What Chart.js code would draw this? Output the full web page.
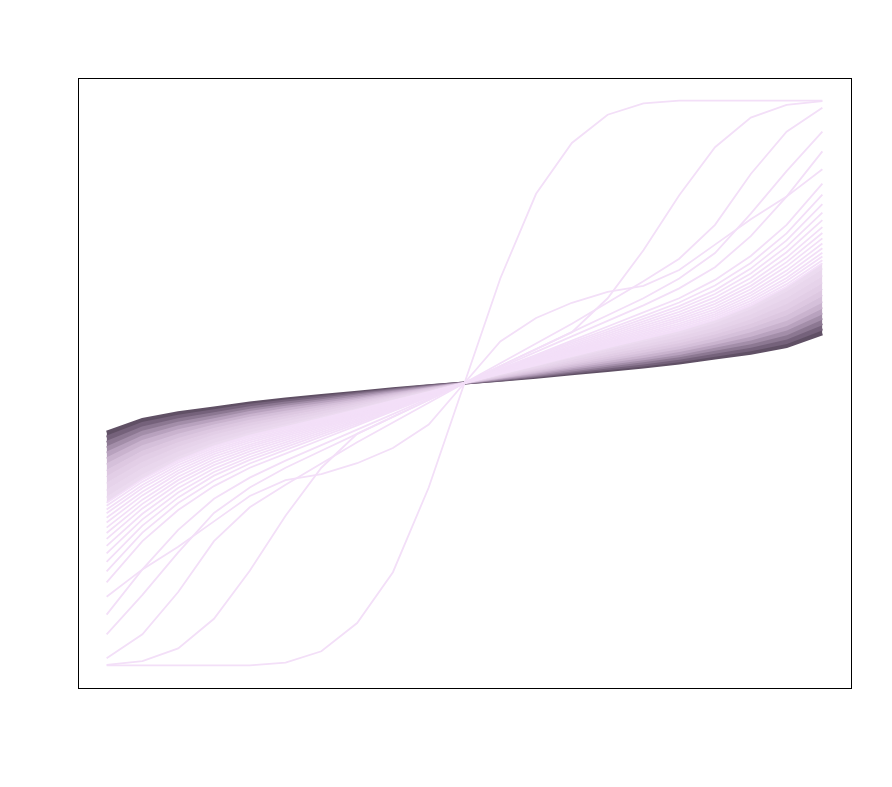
<!DOCTYPE html>
<html>
<head>
<meta charset="utf-8">
<script src="https://cdn.jsdelivr.net/npm/chart.js@4.4.1/dist/chart.umd.min.js"></script>
<style>
  html, body { margin: 0; padding: 0; background: #ffffff; }
  #wrap { width: 892px; height: 787px; position: relative; }
</style>
</head>
<body>
<div id="wrap"><canvas id="chart"></canvas></div>
<script>
// x grid, 21 points
const xValues = [-1, -0.9, -0.8, -0.7, -0.6, -0.5, -0.4, -0.3, -0.2, -0.1, 0,
  0.1, 0.2, 0.3, 0.4, 0.5, 0.6, 0.7, 0.8, 0.9, 1];

// light curves, steepest first
const curve01 = [-1, -1, -1, -1, -1, -0.99, -0.95, -0.85, -0.67, -0.37, 0, 0.37, 0.67, 0.85, 0.95, 0.99, 1, 1, 1, 1, 1];
const curve02 = [-0.998, -0.985, -0.94, -0.835, -0.665, -0.47, -0.3, -0.18, -0.12, -0.06, 0, 0.06, 0.12, 0.18, 0.3, 0.47, 0.665, 0.835, 0.94, 0.985, 0.998];
const curve03 = [-0.975, -0.89, -0.74, -0.56, -0.44, -0.36, -0.285, -0.21, -0.14, -0.07, 0, 0.07, 0.14, 0.21, 0.285, 0.36, 0.44, 0.56, 0.74, 0.89, 0.975];
const curve04 = [-0.89, -0.75, -0.6, -0.46, -0.37, -0.3, -0.24, -0.18, -0.12, -0.06, 0, 0.06, 0.12, 0.18, 0.24, 0.3, 0.37, 0.46, 0.6, 0.75, 0.89];
const curve05 = [-0.82, -0.66, -0.52, -0.41, -0.335, -0.275, -0.22, -0.165, -0.11, -0.055, 0, 0.055, 0.11, 0.165, 0.22, 0.275, 0.335, 0.41, 0.52, 0.66, 0.82];
const curve06 = [-0.757, -0.66, -0.58, -0.49, -0.4, -0.344, -0.323, -0.284, -0.23, -0.147, 0, 0.147, 0.23, 0.284, 0.323, 0.344, 0.4, 0.49, 0.58, 0.66, 0.757];
const curve07 = [-0.706, -0.56, -0.45, -0.365, -0.3, -0.25, -0.2, -0.15, -0.1, -0.05, 0, 0.05, 0.1, 0.15, 0.2, 0.25, 0.3, 0.365, 0.45, 0.56, 0.706];
const curve08 = [-0.667, -0.53, -0.425, -0.345, -0.285, -0.237, -0.19, -0.144, -0.096, -0.048, 0, 0.048, 0.096, 0.144, 0.19, 0.237, 0.285, 0.345, 0.425, 0.53, 0.667];
const curve09 = [-0.633, -0.505, -0.405, -0.328, -0.272, -0.227, -0.182, -0.138, -0.092, -0.046, 0, 0.046, 0.092, 0.138, 0.182, 0.227, 0.272, 0.328, 0.405, 0.505, 0.633];
const curve10 = [-0.603, -0.483, -0.388, -0.315, -0.262, -0.218, -0.175, -0.132, -0.088, -0.044, 0, 0.044, 0.088, 0.132, 0.175, 0.218, 0.262, 0.315, 0.388, 0.483, 0.603];
const curve11 = [-0.577, -0.463, -0.372, -0.303, -0.252, -0.21, -0.168, -0.127, -0.085, -0.042, 0, 0.042, 0.085, 0.127, 0.168, 0.21, 0.252, 0.303, 0.372, 0.463, 0.577];
const curve12 = [-0.552, -0.444, -0.357, -0.291, -0.242, -0.202, -0.162, -0.122, -0.082, -0.041, 0, 0.041, 0.082, 0.122, 0.162, 0.202, 0.242, 0.291, 0.357, 0.444, 0.552];
const curve13 = [-0.531, -0.428, -0.344, -0.28, -0.233, -0.195, -0.156, -0.118, -0.079, -0.04, 0, 0.04, 0.079, 0.118, 0.156, 0.195, 0.233, 0.28, 0.344, 0.428, 0.531];
const curve14 = [-0.512, -0.413, -0.332, -0.27, -0.225, -0.188, -0.151, -0.114, -0.076, -0.038, 0, 0.038, 0.076, 0.114, 0.151, 0.188, 0.225, 0.27, 0.332, 0.413, 0.512];
const curve15 = [-0.494, -0.398, -0.32, -0.261, -0.218, -0.182, -0.146, -0.11, -0.074, -0.037, 0, 0.037, 0.074, 0.11, 0.146, 0.182, 0.218, 0.261, 0.32, 0.398, 0.494];
const curve16 = [-0.477, -0.385, -0.31, -0.252, -0.21, -0.176, -0.141, -0.106, -0.071, -0.036, 0, 0.036, 0.071, 0.106, 0.141, 0.176, 0.21, 0.252, 0.31, 0.385, 0.477];
const curve17 = [-0.461, -0.372, -0.3, -0.244, -0.203, -0.17, -0.137, -0.103, -0.069, -0.035, 0, 0.035, 0.069, 0.103, 0.137, 0.17, 0.203, 0.244, 0.3, 0.372, 0.461];
const curve18 = [-0.448, -0.361, -0.291, -0.237, -0.197, -0.165, -0.133, -0.1, -0.067, -0.034, 0, 0.034, 0.067, 0.1, 0.133, 0.165, 0.197, 0.237, 0.291, 0.361, 0.448];
const curve19 = [-0.435, -0.35, -0.282, -0.23, -0.191, -0.16, -0.129, -0.097, -0.065, -0.033, 0, 0.033, 0.065, 0.097, 0.129, 0.16, 0.191, 0.23, 0.282, 0.35, 0.435];
const curve20 = [-0.424, -0.341, -0.275, -0.224, -0.186, -0.156, -0.126, -0.095, -0.063, -0.032, 0, 0.032, 0.063, 0.095, 0.126, 0.156, 0.186, 0.224, 0.275, 0.341, 0.424];

// dense band, lightest edge first, darkest (flattest) last
const band01 = [-0.405, -0.326, -0.263, -0.214, -0.178, -0.149, -0.12, -0.091, -0.06, -0.031, 0, 0.031, 0.06, 0.091, 0.12, 0.149, 0.178, 0.214, 0.263, 0.326, 0.405];
const band02 = [-0.38, -0.303, -0.245, -0.2, -0.166, -0.138, -0.112, -0.084, -0.055, -0.028, 0, 0.028, 0.055, 0.084, 0.112, 0.138, 0.166, 0.2, 0.245, 0.303, 0.38];
const band03 = [-0.355, -0.282, -0.228, -0.186, -0.154, -0.128, -0.103, -0.077, -0.051, -0.026, 0, 0.026, 0.051, 0.077, 0.103, 0.128, 0.154, 0.186, 0.228, 0.282, 0.355];
const band04 = [-0.332, -0.261, -0.212, -0.174, -0.143, -0.119, -0.095, -0.071, -0.047, -0.024, 0, 0.024, 0.047, 0.071, 0.095, 0.119, 0.143, 0.174, 0.212, 0.261, 0.332];
const band05 = [-0.31, -0.242, -0.197, -0.162, -0.133, -0.11, -0.088, -0.066, -0.043, -0.021, 0, 0.021, 0.043, 0.066, 0.088, 0.11, 0.133, 0.162, 0.197, 0.242, 0.31];
const band06 = [-0.288, -0.223, -0.182, -0.15, -0.122, -0.101, -0.081, -0.06, -0.039, -0.019, 0, 0.019, 0.039, 0.06, 0.081, 0.101, 0.122, 0.15, 0.182, 0.223, 0.288];
const band07 = [-0.267, -0.205, -0.167, -0.139, -0.113, -0.092, -0.074, -0.055, -0.036, -0.018, 0, 0.018, 0.036, 0.055, 0.074, 0.092, 0.113, 0.139, 0.167, 0.205, 0.267];
const band08 = [-0.247, -0.189, -0.154, -0.128, -0.103, -0.084, -0.067, -0.05, -0.032, -0.016, 0, 0.016, 0.032, 0.05, 0.067, 0.084, 0.103, 0.128, 0.154, 0.189, 0.247];
const band09 = [-0.228, -0.173, -0.141, -0.118, -0.095, -0.077, -0.061, -0.045, -0.029, -0.014, 0, 0.014, 0.029, 0.045, 0.061, 0.077, 0.095, 0.118, 0.141, 0.173, 0.228];
const band10 = [-0.21, -0.158, -0.129, -0.108, -0.087, -0.07, -0.056, -0.041, -0.026, -0.013, 0, 0.013, 0.026, 0.041, 0.056, 0.07, 0.087, 0.108, 0.129, 0.158, 0.21];
const band11 = [-0.192, -0.143, -0.118, -0.098, -0.079, -0.064, -0.05, -0.037, -0.024, -0.011, 0, 0.011, 0.024, 0.037, 0.05, 0.064, 0.079, 0.098, 0.118, 0.143, 0.192];
const band12 = [-0.174, -0.129, -0.106, -0.089, -0.071, -0.057, -0.045, -0.033, -0.021, -0.01, 0, 0.01, 0.021, 0.033, 0.045, 0.057, 0.071, 0.089, 0.106, 0.129, 0.174];

const lightCurves = [curve01, curve02, curve03, curve04, curve05, curve06, curve07,
  curve08, curve09, curve10, curve11, curve12, curve13, curve14, curve15, curve16,
  curve17, curve18, curve19, curve20];
const bandCurves = [band01, band02, band03, band04, band05, band06, band07, band08,
  band09, band10, band11, band12];
const bandColors = ["#ecdbf0", "#e9d7ed", "#e6d3ea", "#e2cee6", "#ddc8e1", "#d5c0da",
  "#c9b3ce", "#b8a2be", "#a38ea9", "#8c7892", "#75627b", "#605065"];
const bandWidths = [1.4, 1.4, 1.4, 1.4, 1.5, 1.6, 1.8, 2, 2.2, 2.6, 3, 3.2];

function toPoints(ys) {
  return ys.map((y, i) => ({ x: xValues[i], y: y }));
}

let datasets = [];
for (let c of lightCurves) {
  datasets.push({
    data: toPoints(c),
    borderColor: "#f3dff8",
    borderWidth: 1.8,
    fill: false,
  });
}
bandCurves.forEach((c, i) => {
  datasets.push({
    data: toPoints(c),
    borderColor: bandColors[i],
    backgroundColor: bandColors[i],
    borderWidth: bandWidths[i],
    fill: "-1",
  });
});

// box round the plot region, like base graphics
const frame = {
  id: "frame",
  afterDraw(chart) {
    const a = chart.chartArea;
    const ctx = chart.ctx;
    ctx.save();
    ctx.strokeStyle = "#000000";
    ctx.lineWidth = 1;
    ctx.strokeRect(a.left + 0.5, a.top + 0.5, a.right - a.left, a.bottom - a.top);
    ctx.restore();
  },
};

new Chart(document.getElementById("chart"), {
  type: "line",
  data: { datasets: datasets },
  options: {
    responsive: true,
    maintainAspectRatio: false,
    animation: false,
    layout: { padding: { left: 78, top: 78, right: 41, bottom: 99 } },
    elements: { point: { radius: 0 }, line: { tension: 0 } },
    plugins: { legend: { display: false }, tooltip: { enabled: false }, filler: { propagate: false } },
    scales: {
      x: { type: "linear", min: -1.08, max: 1.08, display: false },
      y: { type: "linear", min: -1.08, max: 1.08, display: false },
    },
  },
  plugins: [frame],
});
</script>
</body>
</html>
